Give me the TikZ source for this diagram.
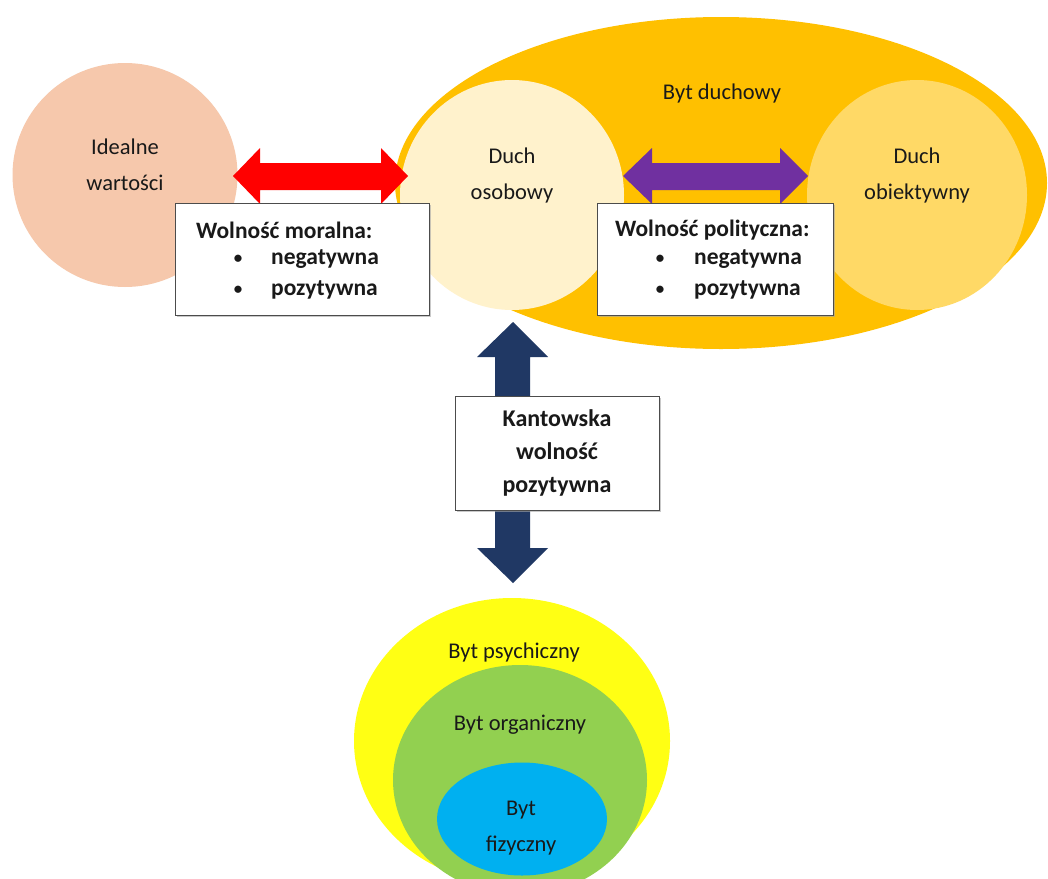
\documentclass[tikz,border=0pt]{standalone}
\usepackage{fontspec}
\setmainfont{Carlito}
\usetikzlibrary{shapes.geometric,shadows}
\definecolor{goldc}{RGB}{255,192,0}
\definecolor{creamc}{RGB}{255,242,204}
\definecolor{lgoldc}{RGB}{255,217,102}
\definecolor{peachc}{RGB}{246,200,172}
\definecolor{yellowc}{RGB}{255,255,20}
\definecolor{greenc}{RGB}{146,208,80}
\definecolor{bluec}{RGB}{0,176,240}
\definecolor{redc}{RGB}{255,0,0}
\definecolor{purplec}{RGB}{112,48,160}
\definecolor{navyc}{RGB}{32,56,100}
\begin{document}
\begin{tikzpicture}[x=1pt,y=-1pt,
  blob/.style={ellipse,inner sep=0pt,draw=none},
  lbl/.style={align=center,font=\fontsize{22.5}{36}\selectfont,inner sep=0pt,text=black!90},
  bx/.style={rectangle,draw=black!70,line width=0.8pt,fill=white,inner sep=0pt,
     drop shadow={shadow xshift=1.5pt,shadow yshift=-2pt,fill=black!35,opacity=0.6}},
  bt/.style={font=\fontsize{23.5}{30}\selectfont\bfseries,inner sep=0pt,anchor=west,text=black!90},
  bb/.style={font=\fontsize{17}{30}\selectfont\bfseries,inner sep=0pt,text=black!90}
]
\useasboundingbox (0,0) rectangle (1048,878);
\fill[white] (0,0) rectangle (1048,878);

% top group
\node[blob,fill=goldc,minimum width=652pt,minimum height=332pt] (duchowy) at (721,183) {};
\node[blob,fill=creamc,minimum width=224pt,minimum height=230pt] (osobowy) at (512,195) {};
\node[blob,fill=lgoldc,minimum width=220pt,minimum height=230pt] (obiektywny) at (917,195) {};
\node[blob,fill=peachc,minimum width=225pt,minimum height=224pt] (idealne) at (125,175) {};

\node[lbl] (tduchowy) at (722,93) {Byt duchowy};
\node[lbl] (tosobowy) at (512,175) {Duch\\osobowy};
\node[lbl] (tobiekt) at (917,175) {Duch\\obiektywny};
\node[lbl] (tideal) at (125,165) {Idealne\\wartości};

% bottom group
\node[blob,fill=yellowc,minimum width=316pt,minimum height=286pt] (psych) at (512,741) {};
\node[blob,fill=greenc,minimum width=254pt,minimum height=230pt] (organ) at (520,780) {};
\node[blob,fill=bluec,minimum width=170pt,minimum height=113pt] (fiz) at (522,819) {};
\node[lbl] (tpsych) at (514,652) {Byt psychiczny};
\node[lbl] (torgan) at (520,725) {Byt organiczny};
\node[lbl] (tfiz) at (521,828) {Byt\\fizyczny};

% block arrows
\fill[redc] (233,176) -- (260,148) -- (260,163) -- (381,163) -- (381,148) -- (408,176)
  -- (381,204) -- (381,190) -- (260,190) -- (260,204) -- cycle;
\fill[purplec] (623,176) -- (652,148) -- (652,163) -- (780,163) -- (780,148) -- (808,176)
  -- (780,204) -- (780,190) -- (652,190) -- (652,204) -- cycle;
\fill[navyc] (513,322) -- (548,357) -- (530,357) -- (530,548) -- (548,548) -- (513,583)
  -- (477,548) -- (495,548) -- (495,357) -- (477,357) -- cycle;

% boxes
\node[bx,minimum width=254pt,minimum height=112pt] (moral) at (302,259) {};
\node[bt] (m1) at (196,230) {Wolność moralna:};
\node[bb] (m2b) at (238,259) {•};
\node[bt] (m2) at (271,259) {negatywna};
\node[bb] (m3b) at (238,290) {•};
\node[bt] (m3) at (271,290) {pozytywna};

\node[bx,minimum width=236pt,minimum height=112pt] (polit) at (715,259) {};
\node[bt] (p1) at (615,230) {Wolność polityczna:};
\node[bb] (p2b) at (660,259) {•};
\node[bt] (p2) at (694,259) {negatywna};
\node[bb] (p3b) at (660,290) {•};
\node[bt] (p3) at (694,290) {pozytywna};

\node[bx,minimum width=204pt,minimum height=114pt] (kant) at (557,453) {};
\node[bb,align=center,font=\fontsize{24}{33}\selectfont\bfseries] (tkant) at (557,453) {Kantowska\\wolność\\pozytywna};
\end{tikzpicture}
\end{document}
